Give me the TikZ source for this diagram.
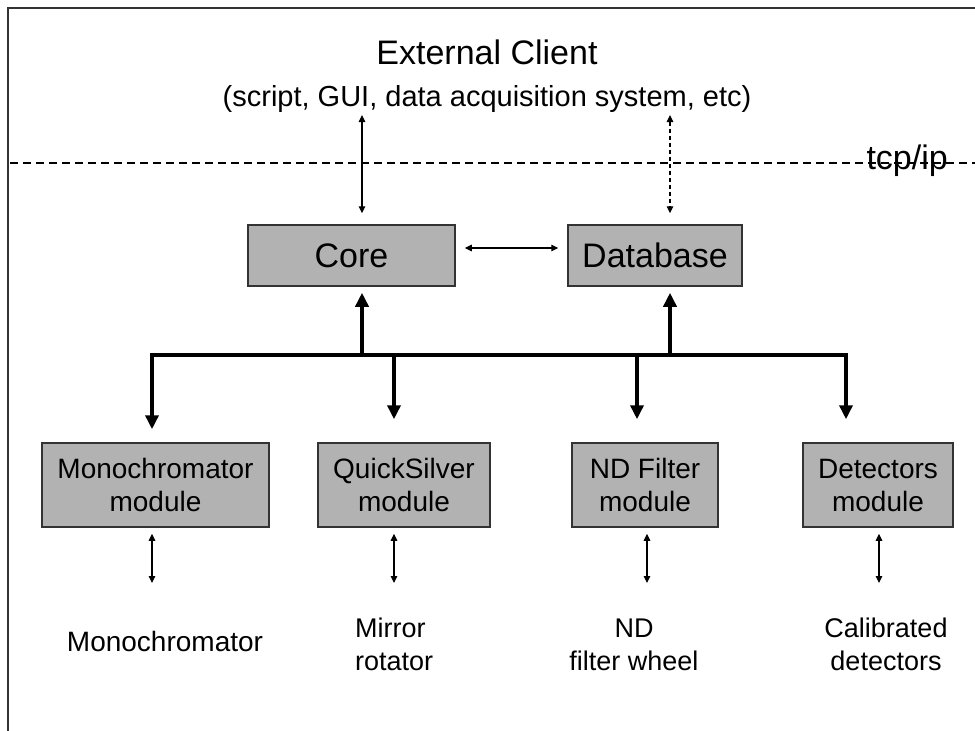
\documentclass[tikz,border=0pt]{standalone}
\usepackage{fontspec}
\setmainfont{Liberation Sans}
\usetikzlibrary{arrows.meta}
\definecolor{boxgray}{HTML}{B2B2B2}
\definecolor{edgegray}{HTML}{333333}
\begin{document}
\begin{tikzpicture}[x=1pt,y=-1pt,
  box/.style={draw=edgegray, line width=1.5pt, fill=boxgray, inner sep=0pt, align=center},
  corebox/.style={box, minimum height=61pt, font=\fontsize{34}{40}\selectfont},
  modbox/.style={box, minimum height=84pt, font=\fontsize{28}{33}\selectfont},
  lbl/.style={inner sep=0pt, font=\fontsize{27}{33}\selectfont},
  headtext/.style={inner sep=0pt, anchor=base, font=\fontsize{34}{40}\selectfont},
  subtext/.style={inner sep=0pt, anchor=base, font=\fontsize{29}{36}\selectfont},
  link/.style={line width=1.2pt, {Triangle[width=6.5pt,length=7pt]}-{Triangle[width=6.5pt,length=7pt]}},
  feed/.style={line width=4pt, -{Triangle[width=13pt,length=14pt]}},
  frame/.style={line width=2pt, black!80}
]
\useasboundingbox (0,0) rectangle (975,731);

% page frame (top and left edges)
\coordinate (fbl) at (8,731);
\coordinate (ftl) at (8,8);
\coordinate (ftr) at (975,8);
\draw[frame] (fbl) -- (ftl) -- (ftr);

% client
\node[headtext] (client1) at (487,64) {External Client};
\node[subtext] (client2) at (487,106) {(script, GUI, data acquisition system, etc)};

% network boundary
\coordinate (netL) at (10,163);
\coordinate (netR) at (975,163);
\draw[line width=1.2pt, dash pattern=on 8pt off 5pt] (netL) -- (netR);
\node[headtext, anchor=base east] (tcp) at (948,169) {tcp/ip};

% core and database
\node[corebox, minimum width=207pt] (core) at (351.5,255.5) {Core};
\node[corebox, minimum width=174pt] (db) at (655,255.5) {Database};

\coordinate (ca) at (362,115);
\coordinate (da) at (670,115);
\draw[link, shorten >=11pt] (ca) -- (ca |- core.north);
\draw[link, dash pattern=on 4pt off 3pt, shorten >=11pt] (da) -- (da |- db.north);
\draw[link, shorten <=9pt, shorten >=9pt] ([yshift=7.5pt]core.east) -- ([yshift=7.5pt]db.west);

% modules
\node[modbox, minimum width=227pt] (mono) at (155.5,485) {Monochromator\\module};
\node[modbox, minimum width=172pt] (qs) at (404,485) {QuickSilver\\module};
\node[modbox, minimum width=146pt] (nd) at (645,485) {ND Filter\\module};
\node[modbox, minimum width=150pt] (det) at (878,485) {Detectors\\module};

% bus
\coordinate (b1) at (152,355);
\coordinate (b2) at (394,355);
\coordinate (b3) at (637,355);
\coordinate (b4) at (846,355);
\coordinate (bc) at (362,355);
\coordinate (bd) at (670,355);
\draw[line width=4pt] ([xshift=-2pt]b1) -- ([xshift=2pt]b4);
\draw[feed, shorten >=6pt] (bc) -- (bc |- core.south);
\draw[feed, shorten >=6pt] (bd) -- (bd |- db.south);
\draw[feed, shorten >=13pt] (b1) -- (b1 |- mono.north);
\draw[feed, shorten >=23pt] (b2) -- (b2 |- qs.north);
\draw[feed, shorten >=23pt] (b3) -- (b3 |- nd.north);
\draw[feed, shorten >=23pt] (b4) -- (b4 |- det.north);

% hardware
\node[lbl, anchor=base, font=\fontsize{28}{33}\selectfont] (hw1) at (165,651) {Monochromator};
\node[lbl, anchor=base west] (hw2a) at (355,637) {Mirror};
\node[lbl, anchor=base west] (hw2b) at (355,670) {rotator};
\node[lbl, anchor=base] (hw3a) at (634,637) {ND};
\node[lbl, anchor=base] (hw3b) at (634,670) {filter wheel};
\node[lbl, anchor=base] (hw4a) at (886,637) {Calibrated};
\node[lbl, anchor=base] (hw4b) at (886,670) {detectors};

\coordinate (h1) at (152,583);
\coordinate (h2) at (394,583);
\coordinate (h3) at (647,583);
\coordinate (h4) at (879,583);
\draw[link, shorten <=6pt] (h1 |- mono.south) -- (h1);
\draw[link, shorten <=6pt] (h2 |- qs.south) -- (h2);
\draw[link, shorten <=6pt] (h3 |- nd.south) -- (h3);
\draw[link, shorten <=6pt] (h4 |- det.south) -- (h4);
\end{tikzpicture}
\end{document}
